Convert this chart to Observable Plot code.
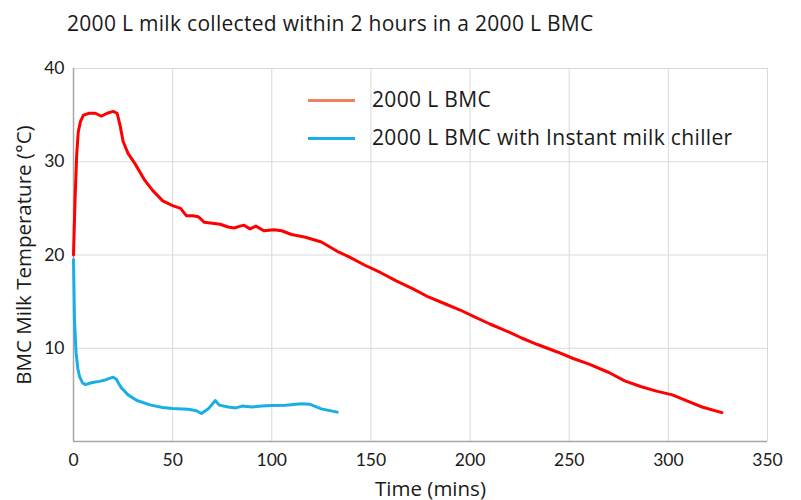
<!DOCTYPE html>
<html>
<head>
<meta charset="utf-8">
<script src="https://cdn.jsdelivr.net/npm/d3@7"></script>
<script src="https://cdn.jsdelivr.net/npm/@observablehq/plot@0.6"></script>
<style>
  body { margin: 0; background: #fff; font-family: "Open Sans", Lato, sans-serif; }
  #wrap { position: relative; width: 801px; height: 500px; }
  #title { position: absolute; left: 67px; top: 9px; font-size: 21px; letter-spacing: 0.3px; color: #1a1a1a; white-space: nowrap; }
  #chart { position: absolute; left: 0; top: 50px; }
  .leg { position: absolute; left: 308px; font-size: 21px; letter-spacing: 0.35px; color: #1a1a1a; white-space: nowrap; }
  .leg .sw { display: inline-block; width: 47px; height: 3px; vertical-align: middle; margin-right: 17px; position: relative; top: -1px; }
</style>
</head>
<body>
<div id="wrap">
  <div id="title"></div>
  <div id="chart"></div>
  <div id="legend"></div>
</div>
<script>
const titleText = "2000 L milk collected within 2 hours in a 2000 L BMC";
const xLabel = "Time (mins)";
const yLabel = "BMC Milk Temperature (°C)";
const seriesNames = ["2000 L BMC", "2000 L BMC with Instant milk chiller"];
const lineColors = ["#ff0000", "#19afe6"];
const legendColors = ["#ef8063", "#19afe6"];
const xTicks = [0, 50, 100, 150, 200, 250, 300, 350];
const yTicks = [10, 20, 30, 40];

const bmcTime = [0, 0.8, 1.6, 2.4, 3.5, 5, 8, 11, 14, 17, 20, 22, 23.5, 25, 27.5, 31, 36, 40, 45, 50, 54, 57, 60, 63, 66, 70, 74, 78, 81, 84, 86, 89, 92, 96, 101, 105, 110, 117, 125, 133, 139, 147, 155, 163, 171, 179, 187, 195, 202, 210, 220, 226, 234, 244, 252, 260, 270, 278, 286, 294, 302, 310, 317, 327];
const bmcTemp = [20, 26, 30.7, 33.2, 34.3, 35, 35.2, 35.2, 34.9, 35.2, 35.4, 35.2, 33.9, 32.2, 30.9, 29.8, 28, 26.9, 25.8, 25.3, 25, 24.2, 24.2, 24.1, 23.5, 23.4, 23.3, 23, 22.9, 23.1, 23.2, 22.8, 23.1, 22.6, 22.7, 22.6, 22.2, 21.9, 21.4, 20.4, 19.8, 18.9, 18.1, 17.2, 16.4, 15.5, 14.8, 14.1, 13.4, 12.6, 11.7, 11.1, 10.4, 9.6, 8.9, 8.3, 7.4, 6.5, 5.9, 5.4, 5.0, 4.3, 3.7, 3.1];

const chillerTime = [0, 0.5, 1.3, 2.2, 3, 4.5, 6, 9, 13, 16, 20, 21.5, 24, 27.5, 32, 39, 45, 50, 58, 62, 64.5, 68, 71.5, 73.5, 78, 82, 85, 90, 95, 100, 107, 115, 119, 125, 133];
const chillerTemp = [19.5, 13, 9.5, 7.8, 7, 6.3, 6.1, 6.3, 6.45, 6.6, 6.9, 6.7, 5.8, 5.0, 4.4, 3.9, 3.65, 3.55, 3.45, 3.3, 3.0, 3.5, 4.4, 3.9, 3.7, 3.6, 3.8, 3.7, 3.8, 3.85, 3.9, 4.05, 4.0, 3.5, 3.15];

const bmc = bmcTime.map((t, i) => ({t, v: bmcTemp[i]}));
const chiller = chillerTime.map((t, i) => ({t, v: chillerTemp[i]}));

document.getElementById("title").textContent = titleText;

const chart = Plot.plot({
  width: 801,
  height: 450,
  marginLeft: 73,
  marginRight: 34,
  marginTop: 18,
  marginBottom: 59,
  style: {fontFamily: "Lato, 'Open Sans', sans-serif", fontSize: "17px", color: "#1a1a1a", background: "#fff", overflow: "visible"},
  x: {domain: [0, 350], ticks: xTicks},
  y: {domain: [0, 40], ticks: yTicks},
  marks: [
    Plot.gridX(xTicks.slice(1), {stroke: "#d9d9d9", strokeOpacity: 1, strokeWidth: 1}),
    Plot.gridY(yTicks, {stroke: "#d9d9d9", strokeOpacity: 1, strokeWidth: 1}),
    Plot.ruleX([0], {stroke: "#a6a6a6", strokeWidth: 1.5}),
    Plot.ruleY([0], {stroke: "#a6a6a6", strokeWidth: 1.5}),
    Plot.axisX(xTicks, {tickSize: 0, tickPadding: 12, label: null, fontSize: 17.5}),
    Plot.axisY(yTicks, {tickSize: 0, tickPadding: 9, label: null, fontSize: 17.5}),
    Plot.line(bmc, {x: "t", y: "v", stroke: lineColors[0], strokeWidth: 3, strokeLinejoin: "round"}),
    Plot.line(chiller, {x: "t", y: "v", stroke: lineColors[1], strokeWidth: 3, strokeLinejoin: "round"}),
    Plot.text([xLabel], {frameAnchor: "bottom", textAnchor: "middle", dx: 10, dy: 54, fontSize: 20.5, fontFamily: "Open Sans", fill: "#1a1a1a"}),
    Plot.text([yLabel], {frameAnchor: "left", textAnchor: "middle", dx: -49, rotate: -90, fontSize: 20.5, fontFamily: "Open Sans", fill: "#1a1a1a"})
  ]
});
document.getElementById("chart").appendChild(chart);

const legend = document.getElementById("legend");
const legendTops = [85, 123];
seriesNames.forEach((name, i) => {
  const row = document.createElement("div");
  row.className = "leg";
  row.style.top = legendTops[i] + "px";
  const sw = document.createElement("span");
  sw.className = "sw";
  sw.style.background = legendColors[i];
  row.appendChild(sw);
  row.appendChild(document.createTextNode(name));
  legend.appendChild(row);
});
</script>
</body>
</html>
